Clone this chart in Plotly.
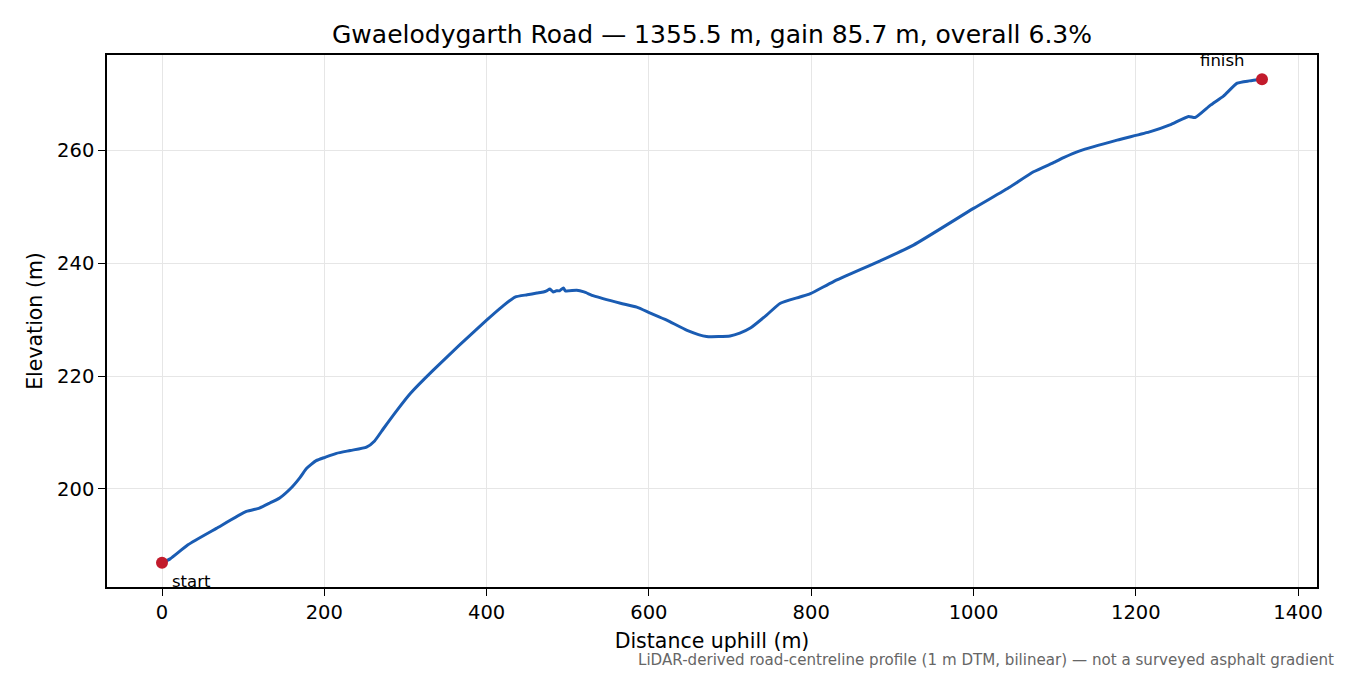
import plotly.graph_objects as go

# road profile: distance uphill (m) and elevation (m)
distance_m = [0, 10, 32, 67, 104, 120, 133, 145, 160, 170, 178, 190, 201, 215, 232,
              252, 262, 273, 290, 306, 334, 400, 420, 435, 450, 462, 470, 474,
              478, 482, 486, 490, 494.6, 497, 511, 520, 532, 565, 585, 601, 622,
              647, 671, 700, 712, 725, 745, 762, 786, 799, 827, 885, 926, 1000,
              1045, 1074, 1100, 1111, 1131, 1177, 1218, 1242, 1265, 1273, 1292,
              1308, 1325, 1340, 1355.5]
elevation_m = [186.9, 187.6, 190.1, 193.0, 196.0, 196.6, 197.5, 198.4, 200.3, 202.0,
               203.6, 205.0, 205.6, 206.3, 206.8, 207.4, 208.5, 210.7, 214.0,
               216.9, 221.0, 229.9, 232.4, 234.0, 234.4, 234.7, 234.9, 235.1,
               235.4, 234.9, 235.1, 235.1, 235.6, 235.1, 235.2, 234.9, 234.2,
               232.9, 232.2, 231.2, 229.9, 228.1, 227.0, 227.1, 227.6, 228.5,
               230.8, 232.9, 234.0, 234.6, 236.7, 240.4, 243.2, 249.7, 253.5,
               256.2, 257.9, 258.7, 259.9, 261.8, 263.3, 264.5, 266.0, 265.8,
               268.0, 269.6, 271.9, 272.3, 272.6]

road_name = "Gwaelodygarth Road"
length_m = 1355.5
gain_m = 85.7
overall_pct = 6.3
footnote = "LiDAR-derived road-centreline profile (1 m DTM, bilinear) — not a surveyed asphalt gradient"

FONT = "DejaVu Sans"
LINE_BLUE = "#1a5cb3"
DOT_RED = "#c21b2c"


def padded(vals, frac=0.05):
    lo, hi = min(vals), max(vals)
    pad = (hi - lo) * frac
    return [lo - pad, hi + pad]


fig = go.Figure()
fig.add_trace(go.Scatter(x=distance_m, y=elevation_m, mode="lines",
                         line=dict(color=LINE_BLUE, width=3, shape="spline", smoothing=0.5),
                         showlegend=False))
fig.add_trace(go.Scatter(x=[distance_m[0], distance_m[-1]],
                         y=[elevation_m[0], elevation_m[-1]], mode="markers",
                         marker=dict(color=DOT_RED, size=12), showlegend=False,
                         cliponaxis=False))

fig.add_annotation(x=distance_m[0], y=elevation_m[0], text="start", showarrow=False,
                   xanchor="left", yanchor="middle", xshift=8, yshift=-19,
                   font=dict(family=FONT, size=16.5, color="black"))
fig.add_annotation(x=distance_m[-1], y=elevation_m[-1], text="finish", showarrow=False,
                   xanchor="center", yanchor="middle", xshift=-40, yshift=19,
                   font=dict(family=FONT, size=16.5, color="black"))
fig.add_annotation(xref="paper", yref="paper", x=1.0157, y=-0.137, text=footnote,
                   showarrow=False, xanchor="right", yanchor="middle",
                   font=dict(family=FONT, size=15.1, color="#666666"))

axis_common = dict(showline=True, linecolor="black", linewidth=1.6, mirror=True,
                   ticks="outside", ticklen=7, tickwidth=1.4, tickcolor="black",
                   showgrid=True, gridcolor="#e6e6e6", gridwidth=1.2, zeroline=False,
                   tickfont=dict(family=FONT, size=19.5, color="black"))

fig.update_xaxes(range=padded(distance_m), tick0=0, dtick=200,
                 title=dict(text="Distance uphill (m)", standoff=10,
                            font=dict(family=FONT, size=20.5, color="black")),
                 **axis_common)
fig.update_yaxes(range=padded(elevation_m), tick0=0, dtick=20,
                 title=dict(text="Elevation (m)", standoff=9,
                            font=dict(family=FONT, size=20.5, color="black")),
                 **axis_common)

fig.update_layout(
    width=1350, height=675,
    margin=dict(l=107, r=33, t=55, b=88),
    paper_bgcolor="white", plot_bgcolor="white",
    font=dict(family=FONT, color="black"),
    title=dict(text=f"{road_name} — {length_m} m, gain {gain_m} m, overall {overall_pct}%",
               x=(107 + 605) / 1350, xanchor="center", y=1 - 34 / 675, yanchor="middle",
               font=dict(family=FONT, size=25, color="black")),
)

# the page's default body margin pushes the chart 8px off; drop it
fig.write_html("out.html", config={"displayModeBar": False},
               post_script="document.body.style.margin='0px';")
